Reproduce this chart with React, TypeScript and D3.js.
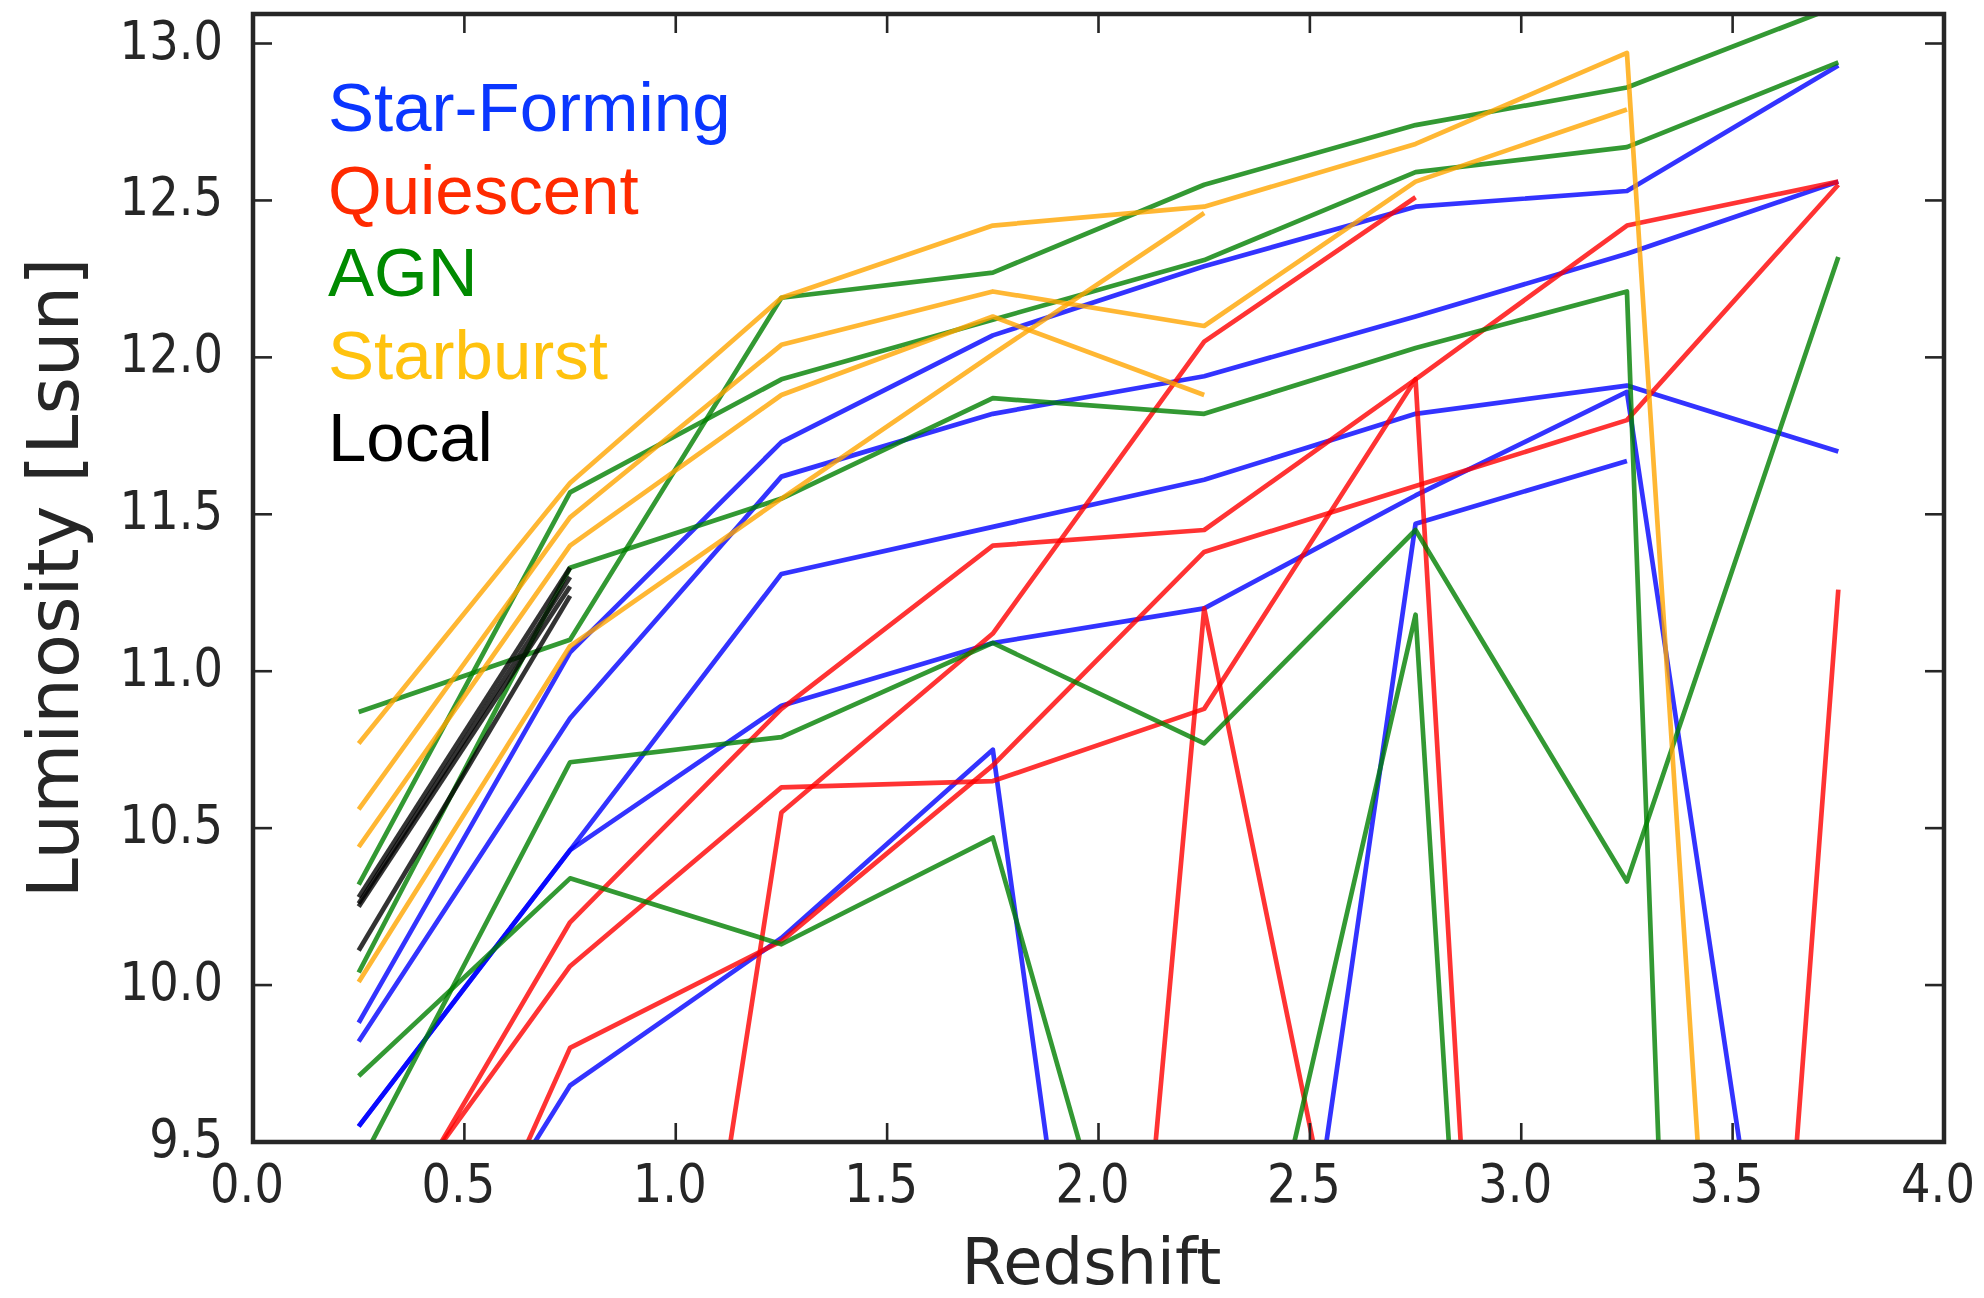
import React from 'react';
import * as d3 from 'd3';

// ---- data ----
const redshift = [0.25, 0.75, 1.25, 1.75, 2.25, 2.75, 3.25, 3.75];

const xTicks = [0, 0.5, 1, 1.5, 2, 2.5, 3, 3.5, 4];
const xTickLabels = ['0.0', '0.5', '1.0', '1.5', '2.0', '2.5', '3.0', '3.5', '4.0'];
const yTicks = [9.5, 10, 10.5, 11, 11.5, 12, 12.5, 13];
const yTickLabels = ['9.5', '10.0', '10.5', '11.0', '11.5', '12.0', '12.5', '13.0'];

// Star-Forming
const sf1 = [9.88, 11.06, 11.73, 12.07, 12.29, 12.48, 12.53, 12.93];
const sf2 = [9.82, 10.85, 11.62, 11.82, 11.94, 12.13, 12.33, 12.56];
const sf3 = [9.55, 10.43, 11.31, 11.46, 11.61, 11.82, 11.91, 11.7];
const sf4 = [9.55, 10.43, 10.89, 11.09, 11.2, 11.56, 11.89, 7.4];
const sf5 = [8.6, 9.68, 10.15, 10.75, 5.85, null, null, null];
const sf6 = [null, null, null, null, 6.8, 11.47, 11.67, null];

// Quiescent
const q1 = [9.05, 10.2, 10.88, 11.4, 11.45, 11.93, 12.42, 12.56];
const q2 = [9.13, 10.06, 10.63, 10.65, 10.88, 11.93, 0.55, null];
const q3 = [8.3, 9.8, 10.14, 10.7, 11.38, 11.59, 11.8, 12.55];
const q4 = [null, 6.2, 10.55, 11.12, 12.05, 12.51, null, null];
const q5 = [null, null, null, 3.8, 11.2, 7.9, 2.3, 11.26];

// AGN
const a1 = [10.87, 11.1, 12.19, 12.27, 12.55, 12.74, 12.86, 13.12];
const a2 = [10.32, 11.57, 11.93, 12.12, 12.31, 12.59, 12.67, 12.94];
const a3 = [10.04, 11.33, 11.55, 11.87, 11.82, 12.03, 12.21, -6];
const a4 = [9.71, 10.34, 10.13, 10.47, 8.1, null, null, null];
const a5 = [9.42, 10.71, 10.79, 11.09, 10.77, 11.45, 10.33, 12.32];
const a6 = [null, null, null, null, 8.25, 11.18, 0.5, null];

// Starburst
const s1 = [10.77, 11.6, 12.19, 12.42, 12.48, 12.68, 12.97, 2.6];
const s2 = [10.56, 11.49, 12.04, 12.21, 12.1, 12.56, 12.79, null];
const s3 = [10.44, 11.4, 11.88, 12.13, 11.88, null, null, null];
const s4 = [10.01, 11.08, 11.55, 12.01, 12.46, null, null, null];

// Local
const l1 = [10.28, 11.33, null, null, null, null, null, null];
const l2 = [10.26, 11.3, null, null, null, null, null, null];
const l3 = [10.25, 11.27, null, null, null, null, null, null];
const l4 = [10.11, 11.24, null, null, null, null, null, null];

const legendLabels = ['Star-Forming', 'Quiescent', 'AGN', 'Starburst', 'Local'];
const legendColors = ['#0a36ff', '#ff2a00', '#008a00', '#ffc20e', '#000000'];

const groups = [
  { color: '#0000ff', lines: [sf1, sf2, sf3, sf4, sf5, sf6] },
  { color: '#ff0000', lines: [q1, q2, q3, q4, q5] },
  { color: '#008000', lines: [a1, a2, a3, a4, a5, a6] },
  { color: '#ffa500', lines: [s1, s2, s3, s4] },
  { color: '#000000', lines: [l1, l2, l3, l4] },
];

export default function App() {
  const W = 1984;
  const H = 1298;
  const left = 253, right = 1944, top = 14, bottom = 1142;
  const x = d3.scaleLinear().domain([0, 4]).range([left, right]);
  const y = d3.scaleLinear().domain([9.5, 13.094]).range([bottom, top]);

  const line = d3
    .line<[number, number | null]>()
    .defined((d) => d[1] != null)
    .x((d) => x(d[0]))
    .y((d) => y(d[1] as number));

  const axisColor = '#262626';
  const tickLen = 19;
  const tickFont = 'DejaVu Sans, Bitstream Vera Sans, sans-serif';

  return (
    <svg
      width={W}
      height={H}
      viewBox={`0 0 ${W} ${H}`}
      style={{ position: 'absolute', left: 0, top: 0, display: 'block', background: '#fff' }}
    >
      <defs>
        <clipPath id="plotClip">
          <rect x={left} y={top} width={right - left} height={bottom - top} />
        </clipPath>
      </defs>
      <rect x={0} y={0} width={W} height={H} fill="#fff" />

      <g clipPath="url(#plotClip)">
        {groups.map((g, gi) =>
          g.lines.map((vals, li) => (
            <path
              key={`${gi}-${li}`}
              d={line(redshift.map((r, i) => [r, vals[i]] as [number, number | null])) || ''}
              fill="none"
              stroke={g.color}
              strokeOpacity={0.8}
              strokeWidth={4.7}
              strokeLinejoin="round"
            />
          ))
        )}
      </g>

      {/* ticks */}
      <g stroke={axisColor} strokeWidth={2.6}>
        {xTicks.map((t, i) => (
          <g key={`xt${i}`}>
            <line x1={x(t)} x2={x(t)} y1={bottom} y2={bottom - tickLen} />
            <line x1={x(t)} x2={x(t)} y1={top} y2={top + tickLen} />
          </g>
        ))}
        {yTicks.map((t, i) => (
          <g key={`yt${i}`}>
            <line x1={left} x2={left + tickLen} y1={y(t)} y2={y(t)} />
            <line x1={right} x2={right - tickLen} y1={y(t)} y2={y(t)} />
          </g>
        ))}
      </g>

      {/* frame */}
      <rect
        x={left}
        y={top}
        width={right - left}
        height={bottom - top}
        fill="none"
        stroke={axisColor}
        strokeWidth={4.5}
      />

      {/* tick labels */}
      <g fill={axisColor} fontFamily={tickFont} fontSize={54}>
        {xTicks.map((t, i) => (
          <text
            key={`xl${i}`}
            transform={`translate(${x(t) - 6},${1202}) scale(0.86,1)`}
            textAnchor="middle"
          >
            {xTickLabels[i]}
          </text>
        ))}
        {yTicks.map((t, i) => (
          <text
            key={`yl${i}`}
            transform={`translate(${223},${y(t) - 4 + 19}) scale(0.86,1)`}
            textAnchor="end"
          >
            {yTickLabels[i]}
          </text>
        ))}
      </g>

      {/* axis titles */}
      <text
        x={(left + right) / 2 - 7}
        y={1284}
        textAnchor="middle"
        fontFamily={tickFont}
        fontSize={64}
        fill={axisColor}
      >
        Redshift
      </text>
      <text
        transform={`translate(78,${(top + bottom) / 2}) rotate(-90)`}
        textAnchor="middle"
        fontFamily={tickFont}
        fontSize={72}
        fill={axisColor}
      >
        Luminosity [Lsun]
      </text>

      {/* legend text */}
      <g fontFamily="Liberation Sans, Arial, Helvetica, sans-serif" fontSize={69}>
        {legendLabels.map((lab, i) => (
          <text key={lab} x={328} y={131 + i * 82.6} fill={legendColors[i]}>
            {lab}
          </text>
        ))}
      </g>
    </svg>
  );
}
